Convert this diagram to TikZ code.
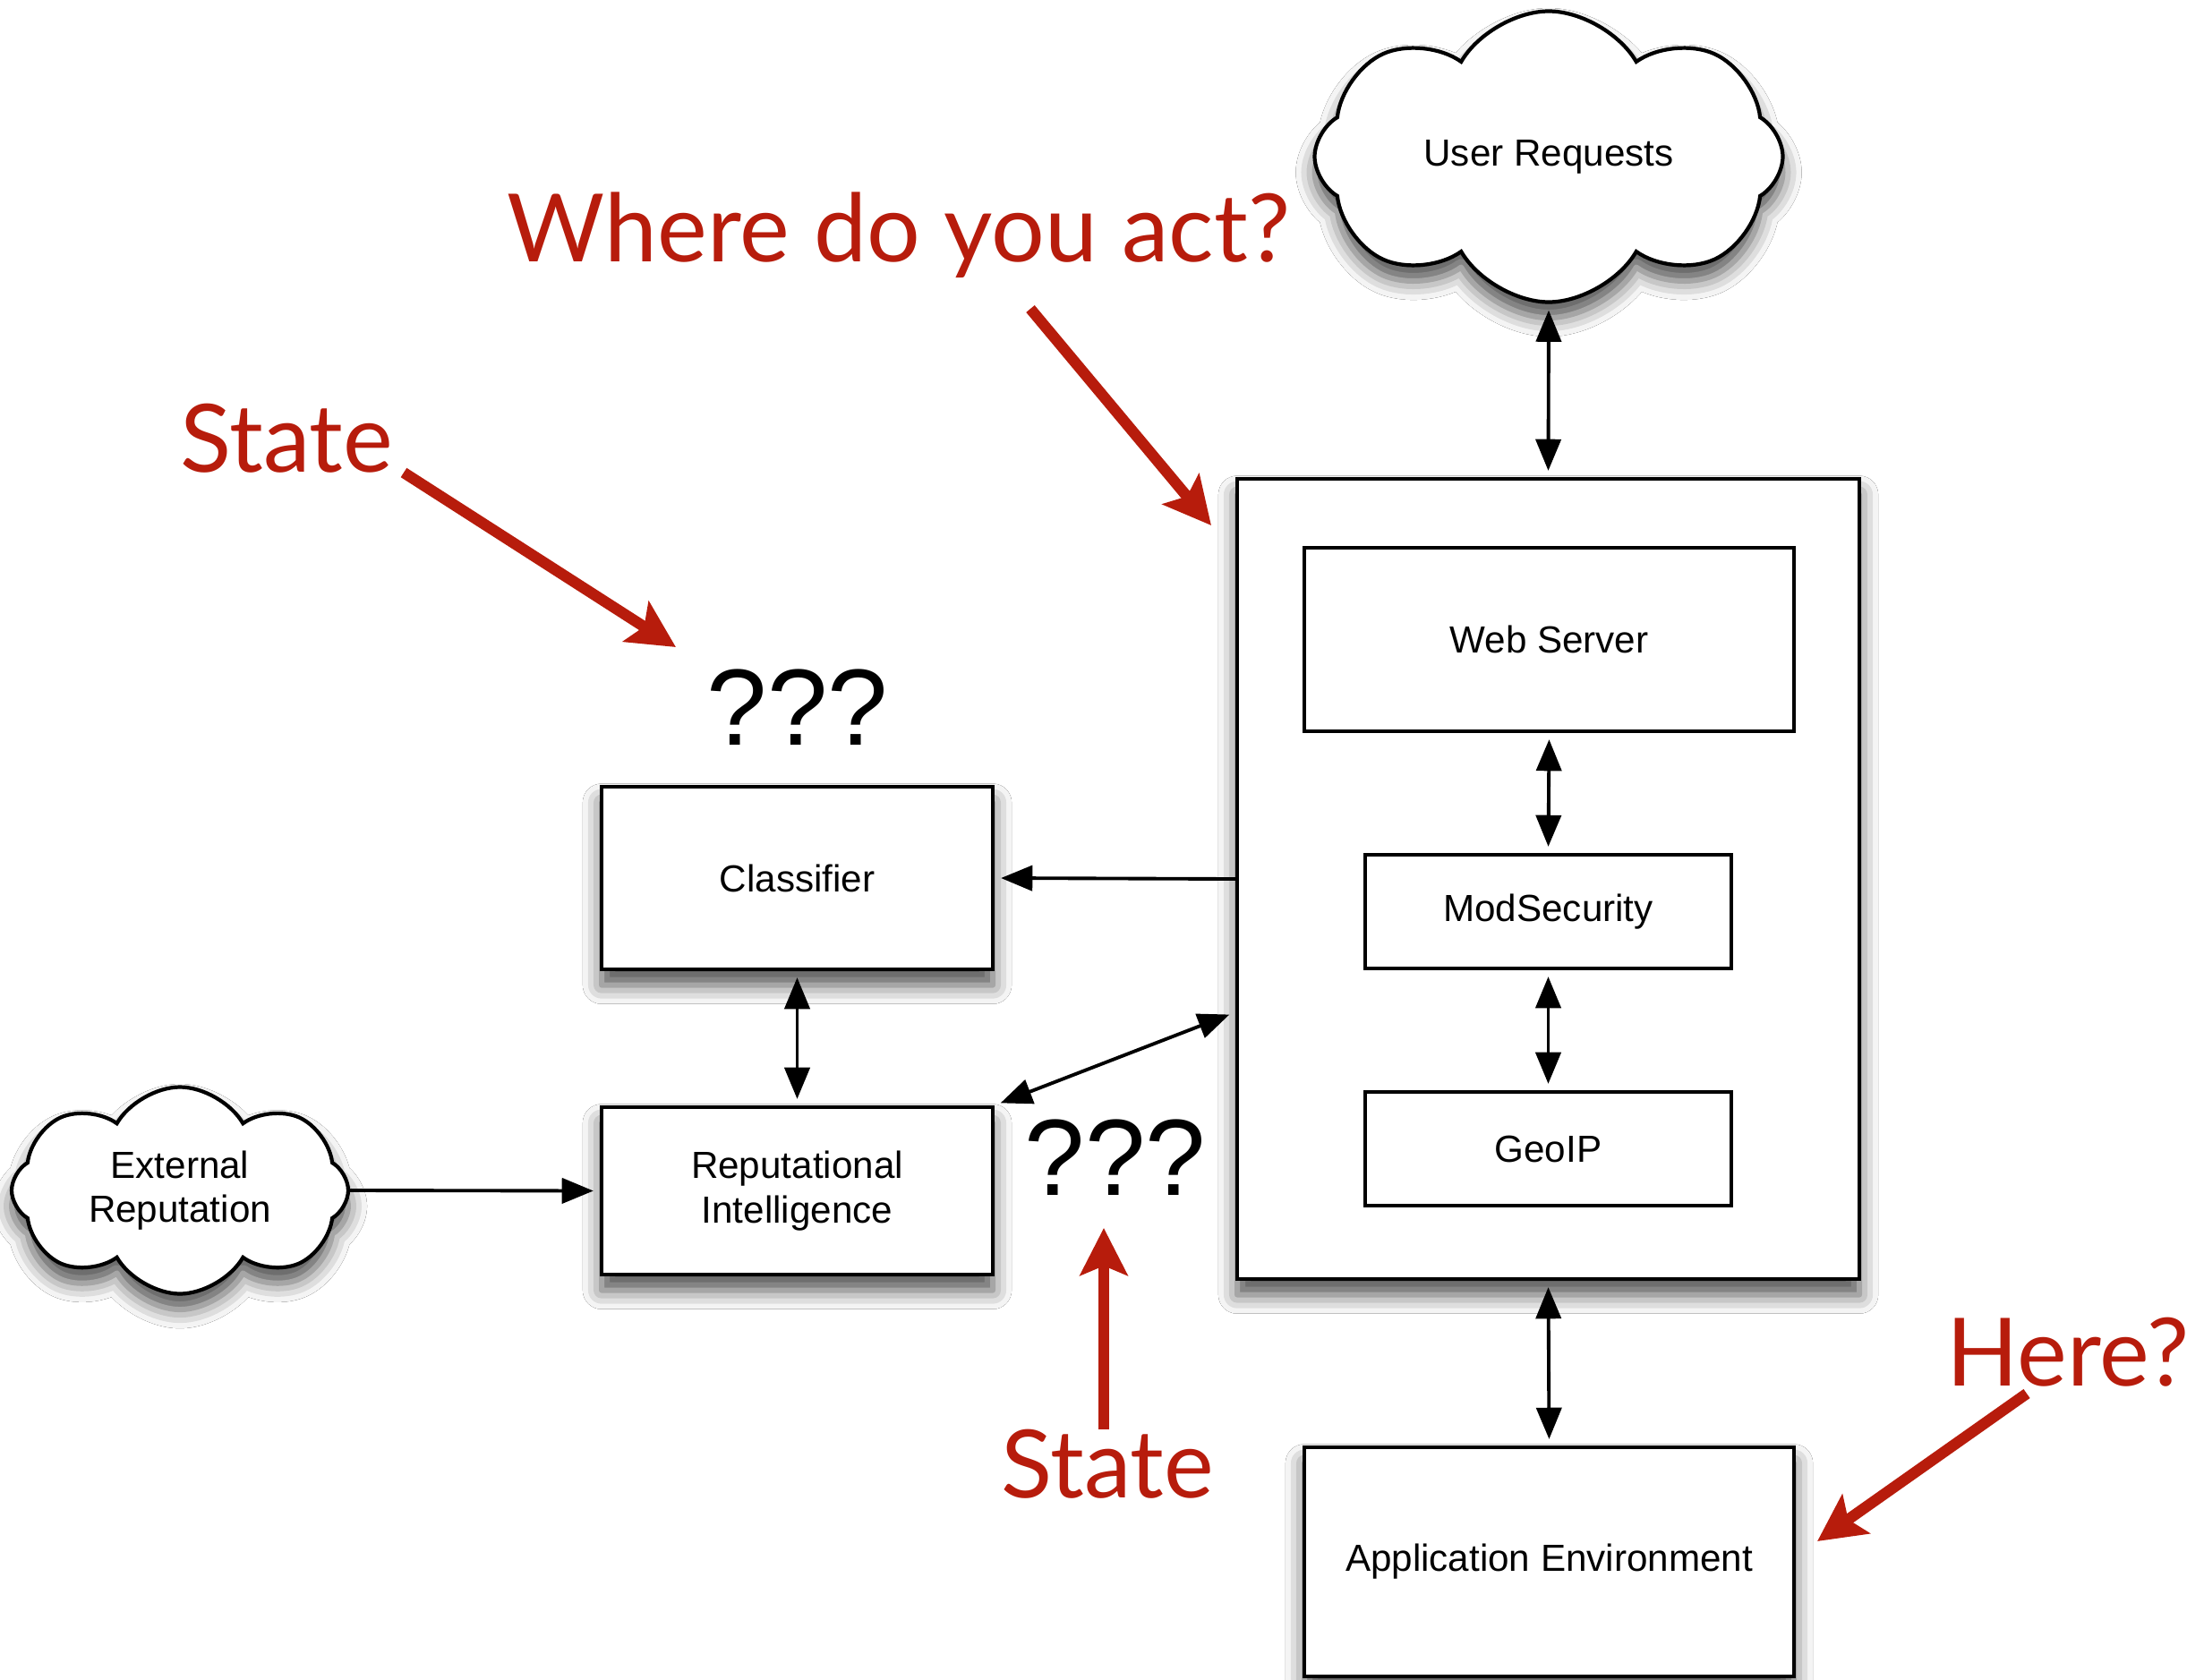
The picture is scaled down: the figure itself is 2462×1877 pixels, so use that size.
\documentclass[tikz,border=0pt]{standalone}
\usepackage{fontspec}
\setmainfont{Liberation Sans}
\newfontfamily\notFont{Lato}
\usepackage{tikz}
\usetikzlibrary{arrows.meta,shapes.symbols,shadows.blur}
\definecolor{stateRed}{HTML}{B71C0C}
\definecolor{lineBlack}{HTML}{000000}

\begin{document}
\begin{tikzpicture}[x=0.1mm,y=-0.1mm,
  box/.style={draw=lineBlack,line width=1.2pt,fill=white,inner sep=0pt,align=center,font=\fontsize{12}{14}\selectfont},
  shadowed/.style={blur shadow={shadow xshift=0pt,shadow yshift=-5pt,shadow blur radius=6pt,shadow opacity=70}},
  cloudy/.style={cloud,cloud puffs=8,cloud puff arc=120,aspect=1.6,draw=lineBlack,line width=1.2pt,fill=white,inner sep=0pt,align=center,font=\fontsize{12}{14}\selectfont},
  link/.style={line width=1.1pt,shorten <=2pt,shorten >=2pt,{Triangle[length=10pt,width=8pt]}-{Triangle[length=10pt,width=8pt]}},
  oneway/.style={line width=1.1pt,shorten >=2pt,-{Triangle[length=10pt,width=8pt]}},
  redArrow/.style={stateRed,line width=3.5pt,-{Stealth[length=15pt,width=15pt,inset=3pt]}},
  redText/.style={stateRed,inner sep=0pt,font=\notFont\fontsize{30}{36}\selectfont},
  qmarks/.style={inner sep=0pt,font=\fontsize{34.5}{40}\selectfont}]
\fill[white] (0,0) rectangle (2462,1877);
\useasboundingbox (0,0) rectangle (2462,1877);

% boxes
\node[box,shadowed,minimum width=69.5mm,minimum height=89.4mm] (outer) at (1729.5,982) {};
\node[box,minimum width=54.7mm,minimum height=20.5mm] (web) at (1730.5,714.5) {Web Server};
\node[box,minimum width=40.9mm,minimum height=12.7mm] (modsec) at (1729.5,1018.5) {ModSecurity};
\node[box,minimum width=40.9mm,minimum height=12.7mm] (geoip) at (1729.5,1283.5) {GeoIP};
\node[box,shadowed,minimum width=43.7mm,minimum height=20.4mm] (classifier) at (890.5,981) {Classifier};
\node[box,shadowed,minimum width=43.7mm,minimum height=18.7mm] (repint) at (890.5,1330.5) {Reputational\\Intelligence};
\node[box,shadowed,minimum width=54.7mm,minimum height=25.6mm] (appenv) at (1730.5,1745) {Application Environment};
\node[cloudy,shadowed,minimum width=52.3mm,minimum height=32.5mm] (userreq) at (1730,175) {User Requests};
\node[cloudy,shadowed,minimum width=37.6mm,minimum height=23.1mm] (extrep) at (201,1330) {External\\Reputation};

% connectors
\coordinate (sideIn) at ([yshift=-14.9mm]outer.west);
\draw[link] (userreq.south) -- (outer.north);
\draw[link] (web.south) -- (modsec.north);
\draw[link] (modsec.south) -- (geoip.north);
\draw[link] (outer.south) -- (appenv.north);
\draw[oneway] (outer.west) -- (classifier.east);
\draw[link] (classifier.south) -- (repint.north);
\draw[link] (repint.north east) -- (sideIn);
\draw[oneway] (extrep.east) -- (repint.west);

% question marks
\node[qmarks,anchor=base] (qTop) at (891,832) {???};
\node[qmarks,anchor=base] (qBottom) at (1246,1335) {???};

% red notes
\node[redText,anchor=base] (where) at (1004,292) {Where do you act?};
\node[redText,anchor=base] (stateTop) at (320,527) {State};
\node[redText,anchor=base] (stateBottom) at (1237,1673) {State};
\node[redText,anchor=base] (here) at (2310,1548) {Here?};
\coordinate (stateTopFrom) at (451,528);
\coordinate (stateTopTo) at (755,723);
\coordinate (whereFrom) at (1151,345);
\coordinate (whereTo) at (1353,587);
\coordinate (stateBottomFrom) at (1233,1597);
\coordinate (stateBottomTo) at (1233,1372);
\coordinate (hereFrom) at (2264,1557);
\coordinate (hereTo) at (2030,1722);
\draw[redArrow] (stateTopFrom) -- (stateTopTo);
\draw[redArrow] (whereFrom) -- (whereTo);
\draw[redArrow] (stateBottomFrom) -- (stateBottomTo);
\draw[redArrow] (hereFrom) -- (hereTo);
\end{tikzpicture}
\end{document}
